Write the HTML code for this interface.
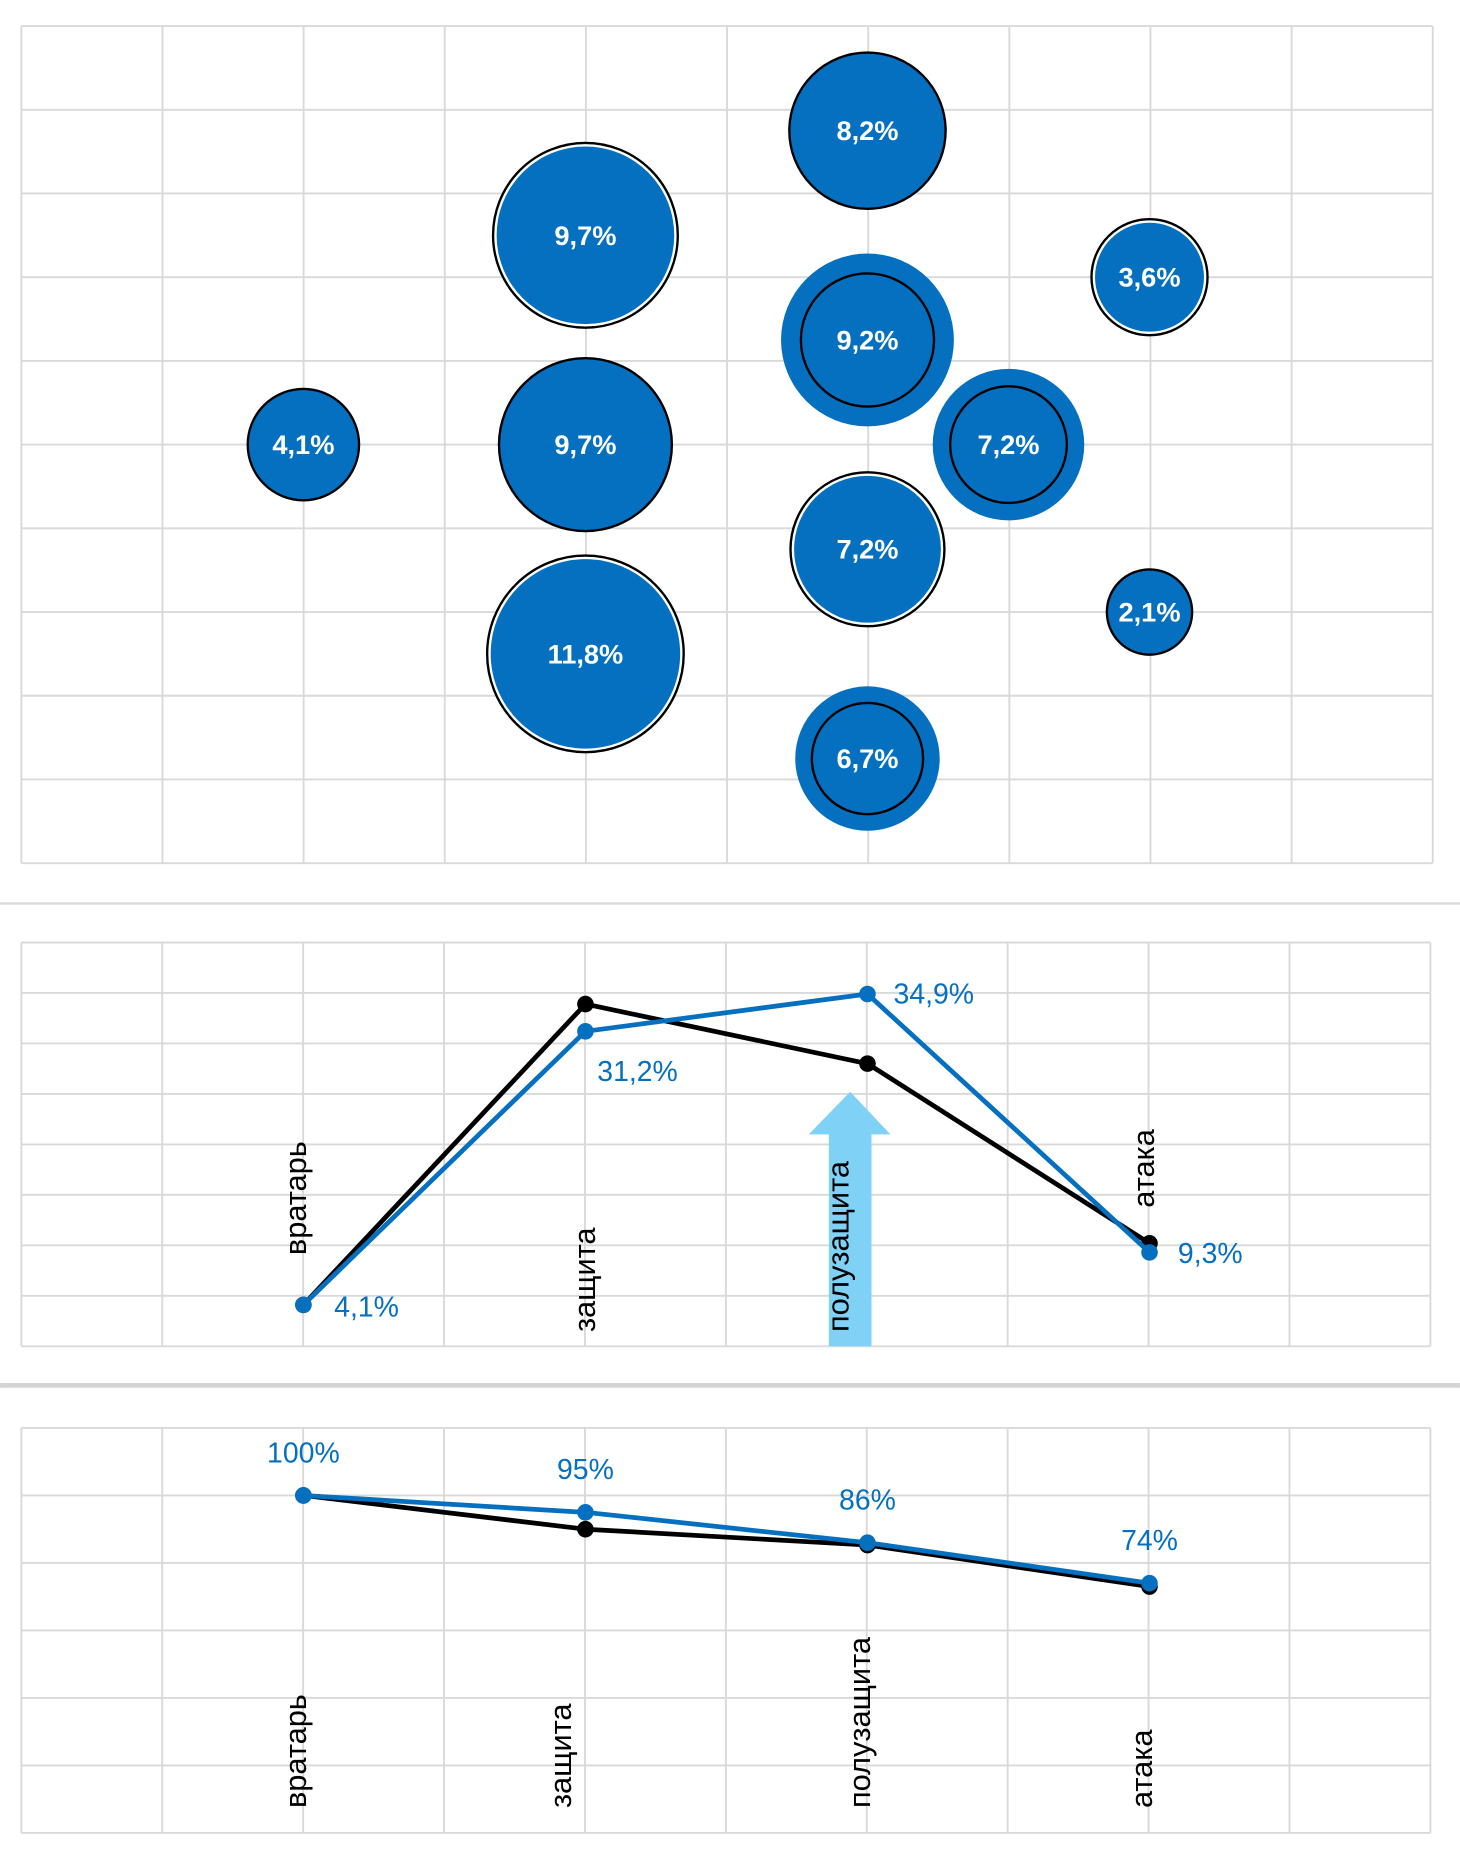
<!DOCTYPE html>
<html><head><meta charset="utf-8"><style>
html,body{margin:0;padding:0;background:#fff;}
svg{display:block;}
text{font-family:"Liberation Sans Narrow","Liberation Sans",sans-serif;}
.cat{font-family:"Liberation Sans",sans-serif;font-size:26px;fill:#000;}
</style></head><body>
<svg id="root" width="1460" height="1856" viewBox="0 0 1233 1567.5" xmlns="http://www.w3.org/2000/svg">
<line x1="0" y1="763" x2="1233" y2="763" stroke="#d9d9d9" stroke-width="2"/>
<line x1="0" y1="1170" x2="1233" y2="1170" stroke="#d4d4d4" stroke-width="4"/>
<g id="bubble"></g>
<g id="line1"></g>
<g id="line2"></g>
</svg>
<script>
// ---- bubble chart data ----
const bubbleX = [6, 4, 8, 6, 2, 4, 7, 6, 8, 4, 6];
const bubbleY = [8.75, 7.5, 7.0, 6.25, 5.0, 5.0, 5.0, 3.75, 3.0, 2.5, 1.25];
const bubbleSize = [67, 79, 50, 73, 48, 74, 64, 66, 37, 84, 61];
const bubbleLabels = ["8,2%", "9,7%", "3,6%", "9,2%", "4,1%", "9,7%", "7,2%", "7,2%", "2,1%", "11,8%", "6,7%"];
const bubbleStyle = ["dark", "ring", "ring", "thick", "dark", "dark", "thick", "ring", "dark", "ring", "thick"];
// ---- line chart 1 data ----
const categories = ["вратарь", "защита", "полузащита", "атака"];
const line1Blue = [4.1, 31.2, 34.9, 9.3];
const line1Black = [4.1, 33.9, 28.0, 10.2];
const line1Labels = ["4,1%", "31,2%", "34,9%", "9,3%"];
// ---- line chart 2 data ----
const line2Blue = [100, 95, 86, 74];
const line2Black = [100, 90, 85.3, 73];
const line2Labels = ["100%", "95%", "86%", "74%"];

const NS = "http://www.w3.org/2000/svg";
const BLUE = "#0570c0";
function mk(parent, tag, attrs, txt) {
  const e = document.createElementNS(NS, tag);
  for (const k in attrs) e.setAttribute(k, attrs[k]);
  if (txt !== undefined) e.textContent = txt;
  parent.appendChild(e);
  return e;
}
const X0 = 18, X1 = 1209;
const xs = v => X0 + (X1 - X0) * v / 10;
function grid(g, top, bottom, nY, right) {
  for (let i = 0; i <= 10; i++) {
    const l = mk(g, "line", {x1: X0 + (right - X0) * i / 10, x2: X0 + (right - X0) * i / 10, y1: top, y2: bottom, stroke: "#d9d9d9", "stroke-width": 1.6});
    
    
  }
  for (let i = 0; i <= nY; i++) {
    const y = top + (bottom - top) * i / nY;
    const l = mk(g, "line", {x1: X0, x2: right, y1: y, y2: y, stroke: "#d9d9d9", "stroke-width": 1.6});
    
    
  }
}

// Bubble chart
(function(){
  const g = document.getElementById("bubble");
  const top = 22, bottom = 729;
  grid(g, top, bottom, 10, 1210);
  const ys = v => bottom - (bottom - top) * v / 10;
  bubbleX.forEach((bx, i) => {
    const cx = xs(bx), cy = ys(bubbleY[i]), r = bubbleSize[i];
    const b = mk(g, "g", {});
    
    
    const st = bubbleStyle[i];
    if (st === "dark") {
      mk(b, "circle", {cx, cy, r: r - 1, fill: BLUE, stroke: "#000", "stroke-width": 2});
    } else if (st === "ring") {
      mk(b, "circle", {cx, cy, r: r - 1, fill: "#fff", stroke: "#000", "stroke-width": 2});
      mk(b, "circle", {cx, cy, r: r - 4, fill: BLUE});
    } else {
      mk(b, "circle", {cx, cy, r, fill: BLUE});
      mk(b, "circle", {cx, cy, r: r * 0.77, fill: "none", stroke: "#000", "stroke-width": 2});
    }
    const t = mk(b, "text", {x: cx, y: cy + 8, "text-anchor": "middle", "font-size": 23, "font-weight": "bold", fill: "#fff"}, bubbleLabels[i]);
    
    
  });
})();

function drawSeries(g, vals, ys, color, name) {
  const pts = vals.map((v, i) => [xs(2 + 2 * i), ys(v)]);
  const p = mk(g, "polyline", {points: pts.map(p => p.join(",")).join(" "), fill: "none", stroke: color, "stroke-width": 4, "stroke-linejoin": "round"});
  
  
  pts.forEach(pt => {
    const c = mk(g, "circle", {cx: pt[0], cy: pt[1], r: 7, fill: color});
    
    
  });
  return pts;
}
function catLabel(g, x, yBottom, txt) {
  const t = mk(g, "text", {class: "cat", x: 0, y: 0, transform: `translate(${x},${yBottom}) rotate(-90)`}, txt);
  
  
}

// Line chart 1
(function(){
  const g = document.getElementById("line1");
  const top = 796, bottom = 1137;
  grid(g, top, bottom, 8, 1208);
  const ys = v => bottom - (bottom - top) * v / 40;
  const bottoms = [1060, 1125, 1125, 1020];
  const dx = [2, 8, -4, 4];
  const arrow = mk(g, "path", {d: "M700,1137 L700,958 L683,958 L718,922 L752,958 L736,958 L736,1137 Z", fill: "#7fd2f5"});
  
  
  categories.forEach((c, i) => catLabel(g, xs(2 + 2 * i) + dx[i] - (i === 2 ? 12 : 0), bottoms[i], c));
  drawSeries(g, line1Black, ys, "#000", "series-black");
  const pts = drawSeries(g, line1Blue, ys, BLUE, "series-blue");
  const off = [[26, 10], [10, 42], [22, 8], [24, 9]];
  pts.forEach((p, i) => {
    const t = mk(g, "text", {x: p[0] + off[i][0], y: p[1] + off[i][1], "font-size": 24, fill: BLUE}, line1Labels[i]);
    
    
  });
})();

// Line chart 2
(function(){
  const g = document.getElementById("line2");
  const top = 1206, bottom = 1548;
  grid(g, top, bottom, 6, 1208);
  const ys = v => bottom - (bottom - top) * v / 120;
  categories.forEach((c, i) => catLabel(g, xs(2 + 2 * i) + 2 - (i === 1 ? 14 : 0), 1527, c));
  drawSeries(g, line2Black, ys, "#000", "series-black");
  const pts = drawSeries(g, line2Blue, ys, BLUE, "series-blue");
  pts.forEach((p, i) => {
    const t = mk(g, "text", {x: p[0], y: p[1] - 28, "font-size": 24, "text-anchor": "middle", fill: BLUE}, line2Labels[i]);
    
    
  });
})();
</script>
</body></html>
